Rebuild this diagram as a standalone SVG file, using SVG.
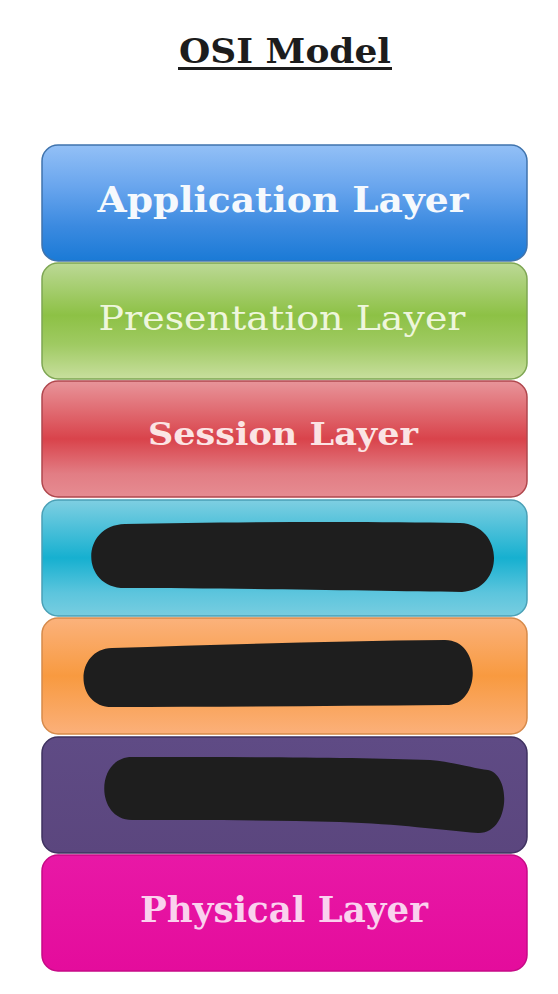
<svg xmlns="http://www.w3.org/2000/svg" width="558" height="994" viewBox="0 0 558 994">
<style>
.box{stroke-width:1.5}
.lbl{font-family:"DejaVu Serif","Liberation Serif",serif;font-weight:bold;text-anchor:middle}
.blob{fill:#1e1e1e}
</style>
<defs>
<linearGradient id="gBlue" x1="0" y1="0" x2="0" y2="1">
<stop offset="0" stop-color="#93c0f6"/><stop offset="0.35" stop-color="#6aa6ee"/><stop offset="0.7" stop-color="#3b8ae0"/><stop offset="1" stop-color="#1a7ad6"/>
</linearGradient>
<linearGradient id="gGreen" x1="0" y1="0" x2="0" y2="1">
<stop offset="0" stop-color="#bcd996"/><stop offset="0.45" stop-color="#8dc145"/><stop offset="0.7" stop-color="#9fca62"/><stop offset="1" stop-color="#c8df9e"/>
</linearGradient>
<linearGradient id="gRed" x1="0" y1="0" x2="0" y2="1">
<stop offset="0" stop-color="#e8959a"/><stop offset="0.5" stop-color="#d9434b"/><stop offset="0.8" stop-color="#e27d84"/><stop offset="1" stop-color="#e68c92"/>
</linearGradient>
<linearGradient id="gCyan" x1="0" y1="0" x2="0" y2="1">
<stop offset="0" stop-color="#7fcfe2"/><stop offset="0.5" stop-color="#16b0d0"/><stop offset="0.8" stop-color="#5cc5dd"/><stop offset="1" stop-color="#78cde0"/>
</linearGradient>
<linearGradient id="gOrange" x1="0" y1="0" x2="0" y2="1">
<stop offset="0" stop-color="#fbb27c"/><stop offset="0.5" stop-color="#f89a40"/><stop offset="1" stop-color="#fbb07a"/>
</linearGradient>
<linearGradient id="gPurple" x1="0" y1="0" x2="0" y2="1">
<stop offset="0" stop-color="#5f4b85"/><stop offset="1" stop-color="#5b467e"/>
</linearGradient>
<linearGradient id="gPink" x1="0" y1="0" x2="0" y2="1">
<stop offset="0" stop-color="#e818a6"/><stop offset="1" stop-color="#e40c9c"/>
</linearGradient>
</defs>
<rect width="558" height="994" fill="#ffffff"/>
<g id="title">
<text x="285" y="63" class="lbl" font-size="34" fill="#1c1c1c" textLength="212" lengthAdjust="spacingAndGlyphs">OSI Model</text>
<rect x="178" y="67" width="214" height="3" fill="#1c1c1c"/>
</g>
<g id="application">
<rect class="box" x="42" y="145" width="485" height="116" rx="16" fill="url(#gBlue)" stroke="#3f73ad"/>
<text x="283" y="212" class="lbl" font-size="36" fill="#f5f9fd" textLength="371" lengthAdjust="spacingAndGlyphs">Application Layer</text>
</g>
<g id="presentation">
<rect class="box" x="42" y="263" width="485" height="116" rx="16" fill="url(#gGreen)" stroke="#7ea653"/>
<text x="282" y="330" class="lbl" font-size="34" fill="#eef6dc" textLength="367" lengthAdjust="spacingAndGlyphs" style="font-weight:normal">Presentation Layer</text>
</g>
<g id="session">
<rect class="box" x="42" y="381" width="485" height="116" rx="16" fill="url(#gRed)" stroke="#b0474d"/>
<text x="283" y="445" class="lbl" font-size="32" fill="#fbe4e4" textLength="270" lengthAdjust="spacingAndGlyphs">Session Layer</text>
</g>
<g id="transport">
<rect class="box" x="42" y="500" width="485" height="116" rx="16" fill="url(#gCyan)" stroke="#4aa0b6"/>
<path class="blob" d="M125 524 C220 522 360 521 460 523 C505 525 505 590 462 592 C380 591 220 588 125 588 C80 588 80 525 125 524 Z"/>
</g>
<g id="network">
<rect class="box" x="42" y="618" width="485" height="116" rx="16" fill="url(#gOrange)" stroke="#d68a4a"/>
<path class="blob" d="M112 648 C220 645 330 641 445 640 C482 640 482 706 445 705 C330 706 220 707 112 707 C74 707 74 649 112 648 Z"/>
</g>
<g id="datalink">
<rect class="box" x="42" y="737" width="485" height="116" rx="16" fill="url(#gPurple)" stroke="#3f3260"/>
<path class="blob" d="M132 757 C250 757 360 757 430 760 C460 763 475 769 488 770 C512 775 510 834 478 833 C440 830 400 824 340 822 C260 820 190 820 132 820 C95 820 95 757 132 757 Z"/>
</g>
<g id="physical">
<rect class="box" x="42" y="855" width="485" height="116" rx="16" fill="url(#gPink)" stroke="#c60a86"/>
<text x="284" y="922" class="lbl" font-size="35" fill="#fad2ee" textLength="288" lengthAdjust="spacingAndGlyphs">Physical Layer</text>
</g>
<g id="connectors"/>
</svg>
